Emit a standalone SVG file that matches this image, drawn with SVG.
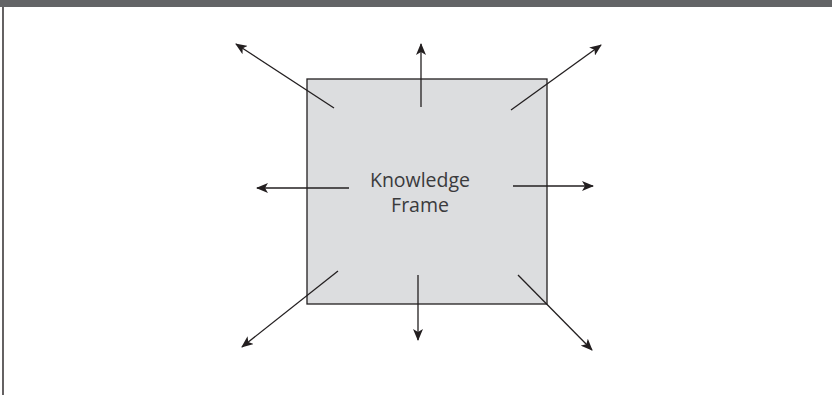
<svg xmlns="http://www.w3.org/2000/svg" width="832" height="395" viewBox="0 0 832 395">
<defs>
<style>
.ln{stroke:#231f20;stroke-width:1.3;fill:none;marker-end:url(#ah)}
.lbl{font-family:"Open Sans","Liberation Sans",sans-serif;font-size:19.5px;fill:#3a3a3c;text-anchor:middle}
</style>
<marker id="ah" viewBox="0 0 12 10" refX="11" refY="5" markerWidth="12" markerHeight="10" markerUnits="userSpaceOnUse" orient="auto">
<path d="M0,0 L12,5 L0,10 L3,5 Z" fill="#231f20"/>
</marker>
</defs>
<rect x="0" y="0" width="832" height="395" fill="#ffffff"/>
<rect x="0" y="0" width="832" height="7" fill="#636466"/>
<line x1="3" y1="7" x2="3" y2="395" stroke="#231f20" stroke-width="1.4"/>
<g id="frame">
<rect x="307" y="79" width="240" height="225" fill="#dcdddf" stroke="#231f20" stroke-width="1.3"/>
<text class="lbl" x="420" y="186.5">Knowledge</text>
<text class="lbl" x="420" y="211.5">Frame</text>
</g>
<g id="connectors">
<line class="ln" x1="334" y1="108" x2="236" y2="44"/>
<line class="ln" x1="421" y1="107" x2="421" y2="44"/>
<line class="ln" x1="511" y1="110" x2="601" y2="45"/>
<line class="ln" x1="349" y1="188" x2="257" y2="188"/>
<line class="ln" x1="513" y1="186" x2="593" y2="186"/>
<line class="ln" x1="338" y1="271" x2="242" y2="347"/>
<line class="ln" x1="418" y1="275" x2="418" y2="340"/>
<line class="ln" x1="518" y1="275" x2="592" y2="350"/>
</g>
</svg>
